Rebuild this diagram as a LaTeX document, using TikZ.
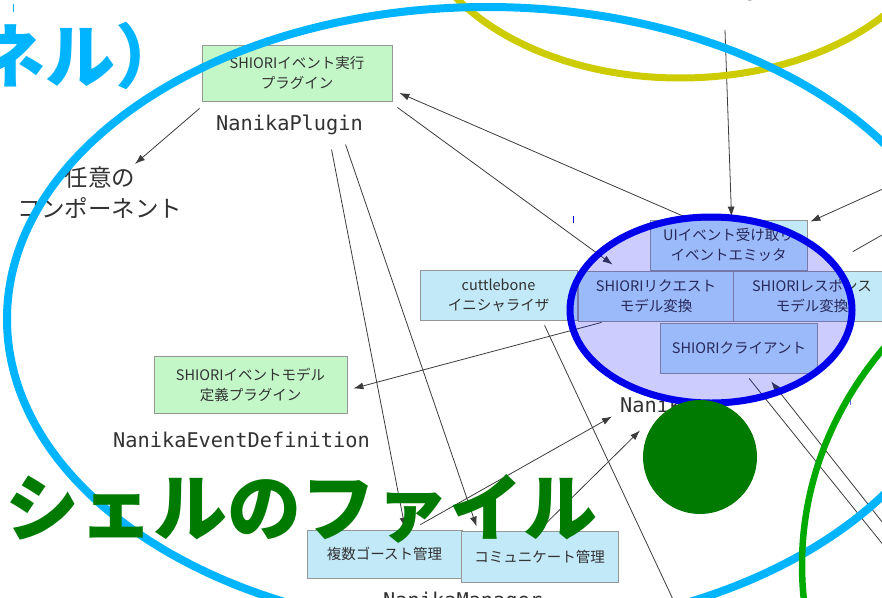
\documentclass[tikz,border=0pt]{standalone}
\usepackage{fontspec}
\newfontfamily\jp{Noto Sans CJK JP}
\newfontfamily\mono{DejaVu Sans Mono}
\usetikzlibrary{arrows.meta,calc}
\definecolor{boxgreen}{RGB}{195,247,200}
\definecolor{boxcyan}{RGB}{194,233,248}
\definecolor{boxline}{RGB}{150,150,150}
\definecolor{txt}{RGB}{50,50,50}
\definecolor{skyring}{RGB}{0,180,255}
\definecolor{olivering}{RGB}{204,204,0}
\definecolor{greenring}{RGB}{0,170,0}
\definecolor{darkgreen}{RGB}{0,122,0}
\definecolor{bluering}{RGB}{0,0,235}
\definecolor{conn}{RGB}{60,60,60}
\begin{document}
\begin{tikzpicture}[x=1pt,y=-1pt,
  modbox/.style={draw=boxline, line width=0.8pt, minimum width=157pt, minimum height=50pt, inner sep=0pt, align=center, font=\jp\fontsize{14.5}{20}\selectfont, text=txt},
  pluginbox/.style={modbox, fill=boxgreen},
  corebox/.style={modbox, fill=boxcyan},
  modname/.style={font=\mono\fontsize{20.3}{24}\selectfont, text=txt, inner sep=0pt, anchor=base west},
  wire/.style={draw=conn, line width=0.8pt},
  arr/.style={wire, -{Latex[length=10pt,width=7pt]}},
  bigtext/.style={inner sep=0pt, anchor=base west},
]
\useasboundingbox (0,0) rectangle (882,597);
\clip (0,0) rectangle (882,597);

% modules
\node[pluginbox, minimum width=190pt, minimum height=56pt] (plugin) at (297,73) {SHIORIイベント実行\\プラグイン};
\node[modname] (pluginname) at (216,130) {NanikaPlugin};
\node[font=\jp\fontsize{23.5}{31}\selectfont, text=txt, align=center, inner sep=0pt] (any) at (100,193) {任意の\\コンポーネント};
\node[pluginbox, minimum width=193pt, minimum height=57pt] (evdef) at (250.5,384.5) {SHIORIイベントモデル\\定義プラグイン};
\node[modname] (evdefname) at (113,447) {NanikaEventDefinition};
\node[corebox] (init) at (498.5,295) {cuttlebone\\イニシャライザ};
\node[corebox] (uiemit) at (728.5,245) {UIイベント受け取り\\イベントエミッタ};
\node[corebox, minimum width=156pt] (req) at (656,296) {SHIORIリクエスト\\モデル変換};
\node[corebox] (res) at (812,296) {SHIORIレスポンス\\モデル変換};
\node[corebox] (client) at (739,348) {SHIORIクライアント};
\node[corebox, minimum width=155pt, minimum height=48pt] (multi) at (384.5,554) {複数ゴースト管理};
\node[corebox, minimum height=51pt] (comm) at (539.5,556.5) {コミュニケート管理};
\node[modname] (managername) at (383,607) {NanikaManager};
\node[modname] (topname) at (573,-3) {NamedEventBridge};
\node[modname] (nanikaname) at (620,412) {Nanika};

% free ends
\coordinate (upsrc) at (725,30);
\coordinate (rightsrc) at (925,170);
\coordinate (rightend) at (910,219);
\coordinate (initend) at (692,640);
\coordinate (clientout) at (930,603);
\coordinate (clientin) at (920,570);

% connectors
\draw[arr] ($(plugin.south west)+(-2,7)$) -- ($(any.north)+(35,-3)$);
\draw[arr] ($(uiemit.north west)+(37,-2)$) -- ($(plugin.east)+(7,20)$);
\draw[arr] ($(plugin.south east)+(5,6)$) -- ($(req.north west)+(35,-6)$);
\draw[arr] (upsrc) -- ($(uiemit.north)+(3,-3)$);
\draw[arr] (rightsrc) -- ($(uiemit.north east)+(3,2)$);
\draw[wire] ($(res.north east)+(-38,-19)$) -- (rightend);
\draw[arr] ($(req.south west)+(24,1)$) -- ($(evdef.east)+(6,4)$);
\draw[arr] ($(pluginname.south)+(42,15)$) -- ($(multi.north)+(20.5,-2)$);
\draw[arr] ($(pluginname.south)+(56,10)$) -- ($(comm.north west)+(16,-4)$);
\draw[wire] ($(init.south west)+(125,5)$) -- (initend);
\draw[arr] ($(multi.north east)+(-42,-5)$) -- ($(nanikaname.south west)+(-8,4)$);
\draw[arr] ($(comm.north west)+(78,0)$) -- ($(nanikaname.south west)+(20,18)$);
\draw[wire] ($(client.south west)+(89,5)$) -- (clientout);
\draw[arr] (clientin) -- ($(client.south west)+(111,8)$);

% Nanika group
\draw[draw=bluering, line width=7pt, fill=blue, fill opacity=0.2] (711,310) ellipse [x radius=141, y radius=93];
\fill[darkgreen] (700,457) circle [radius=57];

% stray marks
\draw[blue, line width=0.8pt] (573,216) -- (573,223);
\draw[blue!60, line width=0.8pt] (850,398) -- (850,405);
\draw[skyring, line width=0.8pt] (13,4) -- (13,12);

% rings
\draw[olivering, line width=7pt] (680,-100) ellipse [x radius=268, y radius=178];
\draw[skyring, line width=8pt] (487,319) ellipse [x radius=480, y radius=312];
\draw[greenring, line width=6.5pt] (1215,565) ellipse [x radius=413, y radius=363];

% big captions
\node[bigtext, font=\jp\bfseries\fontsize{70}{70}\selectfont, text=skyring] (kernel) at (-25,82) {ネル）};
\node[bigtext, font=\jp\bfseries\fontsize{74}{74}\selectfont, text=darkgreen] (shellfile) at (5,535) {シェルのファイル};
\end{tikzpicture}
\end{document}
